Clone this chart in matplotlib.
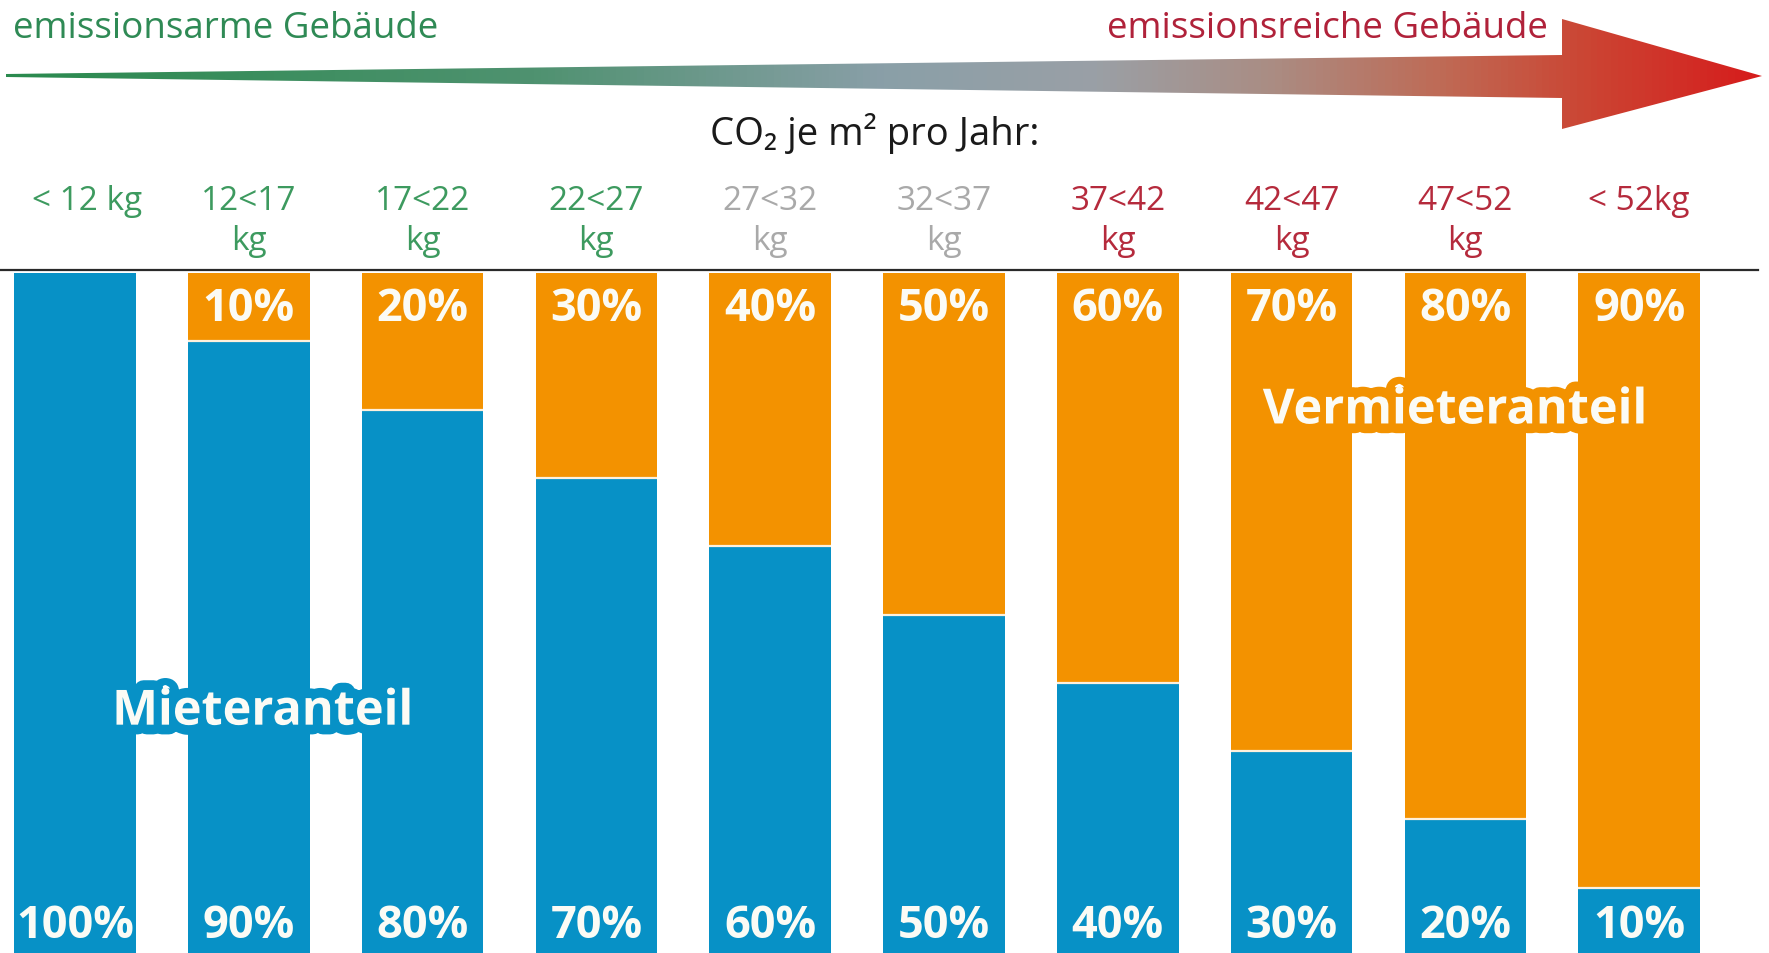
import numpy as np
import matplotlib
matplotlib.use('Agg')
import matplotlib.pyplot as plt
from matplotlib.colors import LinearSegmentedColormap
from matplotlib.patches import Polygon
from matplotlib.transforms import blended_transform_factory
import matplotlib.patheffects as pe

plt.rcParams['font.family'] = ['Open Sans', 'DejaVu Sans']

# data
categories = ['< 12 kg', '12<17\nkg', '17<22\nkg', '22<27\nkg', '27<32\nkg',
              '32<37\nkg', '37<42\nkg', '42<47\nkg', '47<52\nkg', '< 52kg']
mieter = [100, 90, 80, 70, 60, 50, 40, 30, 20, 10]
vermieter = [0, 10, 20, 30, 40, 50, 60, 70, 80, 90]
cat_colors = ['#3d9a5f'] * 4 + ['#a9a9a9'] * 2 + ['#b52a3c'] * 4

BLUE = '#0791c6'
ORANGE = '#f39200'
W, H = 1769, 954

fig = plt.figure(figsize=(W / 100, H / 100), dpi=100)
fig.patch.set_facecolor('white')

# overlay in pixel coordinates for headline arrow and texts
bg = fig.add_axes([0, 0, 1, 1])
bg.set_xlim(0, W)
bg.set_ylim(H, 0)
bg.axis('off')

# gradient arrow
arrow_pts = [(6, 75), (1562, 56), (1562, 20), (1762, 77), (1562, 130), (1562, 99), (6, 78)]
arrow = Polygon(arrow_pts, closed=True, facecolor='none', edgecolor='none')
bg.add_patch(arrow)
cmap = LinearSegmentedColormap.from_list('emis', [
    (0.0, '#2a8a4e'), (0.3, '#4f9270'), (0.5, '#8a9fa8'), (0.62, '#9aa0a6'),
    (0.72, '#aa8d84'), (0.82, '#bf6a55'), (0.9, '#cb4634'), (1.0, '#d61c1c')])
grad = np.linspace(0, 1, 512).reshape(1, -1)
im = bg.imshow(grad, cmap=cmap, aspect='auto', extent=[6, 1762, 135, 15], zorder=1)
im.set_clip_path(arrow)

bg.text(13, 29, 'emissionsarme Gebäude', color='#2f8a55', fontsize=26.5,
        ha='left', va='center')
bg.text(1548, 29, 'emissionsreiche Gebäude', color='#b0223a', fontsize=26.5,
        ha='right', va='center')
bg.text(875, 134, 'CO₂ je m² pro Jahr:', color='#1a1a1a', fontsize=27.5,
        ha='center', va='center')

# separator line
bg.plot([0, 1758], [271, 271], color='#2a2a2a', lw=1.6, zorder=3)

# bars
ax = fig.add_axes([0, (H - 957) / H, 1, (957 - 274) / H])
ax.set_facecolor('none')
x = np.arange(len(categories))
width = 0.70
ax.bar(x, mieter, width=width, color=BLUE, zorder=2)
ax.bar(x, vermieter, width=width, bottom=mieter, color=ORANGE, zorder=2)
for xi, m, v in zip(x, mieter, vermieter):
    if v > 0:
        ax.hlines(m, xi - width / 2, xi + width / 2, color='#fdf0dc', lw=1.6, zorder=3)
ax.set_xlim(-75 / 173.8, (W - 75) / 173.8)
ax.set_ylim(0, 100)
ax.axis('off')

# category labels
trans = blended_transform_factory(ax.transData, bg.transData)
for xi, lab, c in zip(x, categories, cat_colors):
    xo = 0.07 if xi == 0 else 0
    bg.text(xi + xo, 184.5, lab, color=c, fontsize=24, ha='center', va='top',
            linespacing=1.3, transform=trans)

# percentage labels
for xi, m, v in zip(x, mieter, vermieter):
    ax.text(xi, 4.4, f'{m}%', color='#fbfbf5', fontsize=32.5, fontweight='bold',
            ha='center', va='center', zorder=5)
    if v > 0:
        ax.text(xi, 94.8, f'{v}%', color='#fbfbf5', fontsize=32.5, fontweight='bold',
                ha='center', va='center', zorder=5)

ax.text(1.08, 35.7, 'Mieteranteil', color='#fbfbf5', fontsize=35, fontweight='bold',
        ha='center', va='center', zorder=6,
        path_effects=[pe.withStroke(linewidth=14, foreground=BLUE)])
ax.text(7.94, 79.8, 'Vermieteranteil', color='#fbfbf5', fontsize=35, fontweight='bold',
        ha='center', va='center', zorder=6,
        path_effects=[pe.withStroke(linewidth=14, foreground=ORANGE)])

fig.savefig('out.png', dpi=100, facecolor='white')
